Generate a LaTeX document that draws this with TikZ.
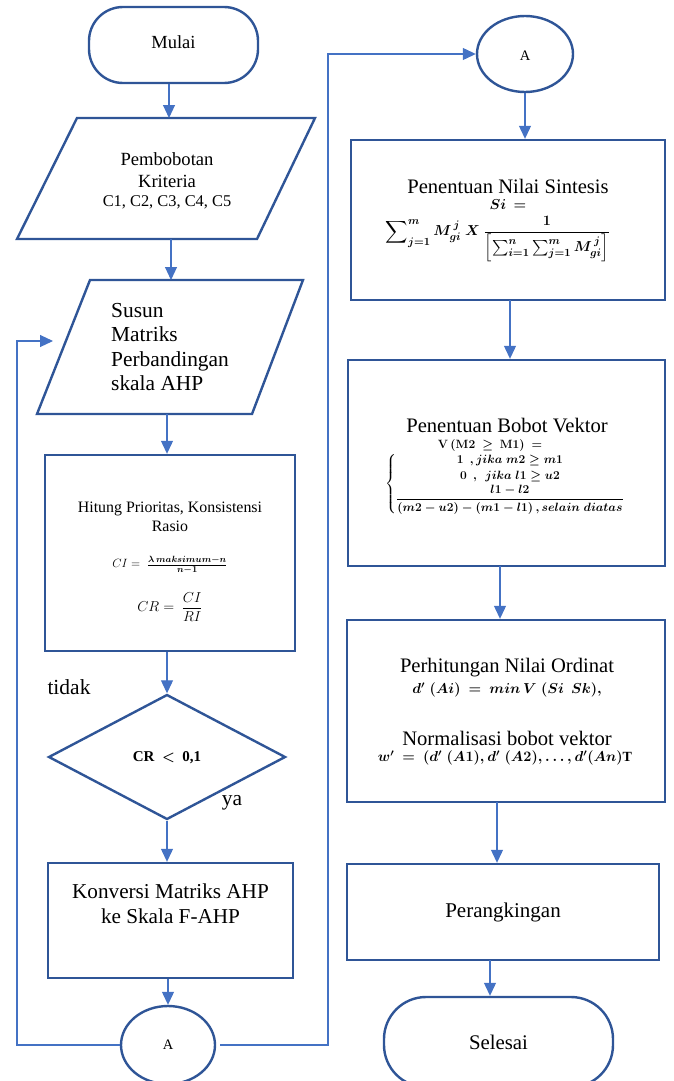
\documentclass[tikz,border=0pt]{standalone}
\usepackage{amsmath,amssymb}
\usepackage{fontspec}
\setmainfont{Liberation Serif}
\usetikzlibrary{shapes.geometric,arrows.meta}
\definecolor{shapeblue}{RGB}{47,85,151}
\definecolor{connblue}{RGB}{68,114,196}
\tikzset{
  shp/.style={draw=shapeblue, line width=2.4pt, fill=white},
  boxnode/.style={shp, rectangle, inner sep=0pt},
  termnode/.style={shp, rectangle, rounded corners=34pt, inner sep=0pt},
  conn/.style={draw=connblue, line width=1.1pt, -{Triangle[length=13pt,width=12pt]}},
  txt/.style={inner sep=0pt, align=center, text=black},
}
\newcommand{\fs}[2]{\fontsize{#1}{#2}\selectfont}
\begin{document}
\begin{tikzpicture}[x=1pt,y=-1pt]
\useasboundingbox (0,0) rectangle (674,1081);
% ---------- left column ----------
\node[termnode, minimum width=169pt, minimum height=76pt] (mulai) at (173.5,45) {};
\node[txt, font=\fs{18.5}{22}] (mulaitxt) at (173.5,42) {Mulai};

% parallelogram 1
\draw[shp] (77,118) -- (315,118) -- (257,239) -- (17,239) -- cycle;
\coordinate (p1t) at (169,118);
\coordinate (p1b) at (171,239);
\node[txt, font=\fs{18.6}{21.5}] (p1txt) at (167,181) {Pembobotan\\Kriteria\\[-2pt]\fs{16.4}{19}C1, C2, C3, C4, C5};

% parallelogram 2
\draw[shp] (90,280) -- (303,280) -- (252,414) -- (37,414) -- cycle;
\coordinate (p2t) at (171,280);
\coordinate (p2b) at (167,414);
\node[txt, align=left, anchor=west, font=\fs{21.4}{24.5}] (p2txt) at (111,347) {Susun\\Matriks\\Perbandingan\\skala AHP};

% hitung box
\node[boxnode, minimum width=250pt, minimum height=196pt] (hitung) at (170,553) {};
\node[txt, font=\fs{15.9}{19}] (hitungtxt) at (170,517) {Hitung Prioritas, Konsistensi\\Rasio};
\node[txt, font=\fs{13}{15}] (ci) at (170,565) {$CI =\ \frac{\boldsymbol{\lambda\, maksimum-n}}{\boldsymbol{n-1}}$};
\node[txt, font=\fs{14}{16}] (cr) at (170,607) {$CR =\ \dfrac{CI}{RI}$};

% decision
\node[shp, diamond, inner sep=0pt, minimum width=237pt, minimum height=125pt] (dec) at (167,757) {};
\node[txt, font=\fs{15}{18}] (dectxt) at (167,758) {\textbf{CR}\ \ {\boldmath$<$}\ \ \textbf{0,1}};
\node[txt, font=\fs{21.5}{24}] (tidak) at (69,687) {tidak};
\node[txt, font=\fs{21.5}{24}] (ya) at (232,803) {ya};

% konversi box
\node[boxnode, minimum width=245pt, minimum height=115pt] (konv) at (170.5,920.5) {};
\node[txt, font=\fs{21.2}{25}] (konvtxt) at (170.5,904) {Konversi Matriks AHP\\ke Skala F-AHP};

% connector A (bottom)
\node[shp, ellipse, inner sep=0pt, minimum width=94pt, minimum height=78pt] (Abot) at (168,1045) {};
\node[txt, font=\fs{14.5}{17}] (Abottxt) at (168,1045) {A};

% ---------- right column ----------
\node[shp, ellipse, inner sep=0pt, minimum width=96pt, minimum height=76pt] (Atop) at (525,54) {};
\node[txt, font=\fs{14.5}{17}] (Atoptxt) at (525,56) {A};

\node[boxnode, minimum width=314pt, minimum height=160pt] (sint) at (508,220) {};
\node[txt, font=\fs{20.6}{23}] (sinttxt) at (508,186) {Penentuan Nilai Sintesis};
\node[txt, font=\fs{15}{17}] (si) at (508,205) {{\boldmath$Si\,=$}};
\node[txt, font=\fs{15.5}{17}] (sif) at (498,239) {{\boldmath$\displaystyle\sum\nolimits_{j=1}^{m} M_{gi}^{\,j}\ X\ \frac{1}{\left[\sum_{i=1}^{n}\sum_{j=1}^{m} M_{gi}^{\,j}\right]}$}};

\node[boxnode, minimum width=317pt, minimum height=206pt] (bobot) at (506.5,463) {};
\node[txt, font=\fs{20.6}{23}] (bobottxt) at (507,426) {Penentuan Bobot Vektor};
\node[txt, font=\fs{12.5}{14}] (vline) at (490,445) {{\boldmath$\mathbf{V}\,(\mathbf{M2}\ \geq\ \mathbf{M1})\ =$}};
\node[txt, font=\fs{12.5}{14}] (cases) at (505,484) {{\boldmath$\left\{\begin{array}{@{}c@{}}
1\ \ ,jika\;m2 \geq m1\\[2pt]
0\ \ ,\ \ jika\;l1\geq u2\\[1pt]
\dfrac{l1-l2}{(m2-u2)-(m1-l1)\,,selain\;diatas}
\end{array}\right.$}};

\node[boxnode, minimum width=318pt, minimum height=182pt] (ord) at (506,711) {};
\node[txt, font=\fs{20.6}{23}] (ordtxt) at (507,668) {Perhitungan Nilai Ordinat};
\node[txt, font=\fs{14}{16}] (ordf) at (507,690) {{\boldmath$d'\;(Ai)\ =\ min\,V\;(Si\ \ Sk),$}};
\node[txt, font=\fs{20.6}{23}] (normtxt) at (507,738) {Normalisasi bobot vektor};
\node[txt, font=\fs{14}{16}] (normf) at (505,758) {{\boldmath$w'\ =\ (d'\;(A1), d'\;(A2), \ldots, d'(An)\mathrm{T}$}};

\node[boxnode, minimum width=312pt, minimum height=96pt] (rank) at (503,912) {};
\node[txt, font=\fs{21}{24}] (ranktxt) at (503,912) {Perangkingan};

\node[termnode, rounded corners=42pt, minimum width=229pt, minimum height=90pt] (selesai) at (498.5,1042) {};
\node[txt, font=\fs{20.8}{24}] (selesaitxt) at (498.5,1042) {Selesai};

% ---------- connectors ----------
\coordinate (lx) at (17,341);
\coordinate (loopend) at (53,341);
\coordinate (rx) at (328,54);
\coordinate (c1) at (510,300);
\coordinate (c2) at (500,566);
\coordinate (c3) at (497,802);
\coordinate (c4) at (490,960);

\draw[conn] (mulai.south -| p1t) -- (p1t);
\draw[conn] (p1b) -- (p2t);
\draw[conn] (p2b) -- (p2b |- hitung.north);
\draw[conn] (hitung.south -| dec.north) -- (dec.north);
\draw[conn] (dec.south) -- (dec.south |- konv.north);
\draw[conn] (konv.south -| Abot.north) -- (Abot.north);
\draw[conn] (Abot.west) -| (lx) -- (loopend);
\draw[conn] ([xshift=4pt]Abot.east) -| (rx) -- (Atop.west);
\draw[conn] (Atop.south) -- (Atop.south |- sint.north);
\draw[conn] (c1) -- (c1 |- bobot.north);
\draw[conn] (c2) -- (c2 |- ord.north);
\draw[conn] (c3) -- (c3 |- rank.north);
\draw[conn] (c4) -- (c4 |- selesai.north);
\end{tikzpicture}
\end{document}
